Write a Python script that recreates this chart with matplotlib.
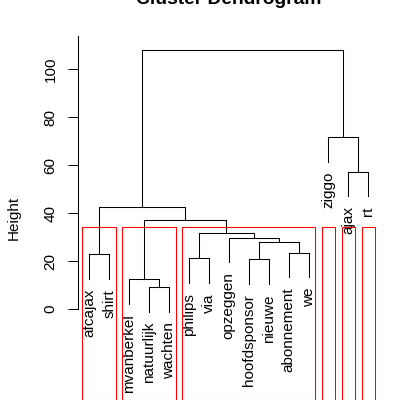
import numpy as np
import matplotlib.pyplot as plt
from matplotlib.patches import Rectangle

plt.rcParams['font.family'] = ['Liberation Sans', 'DejaVu Sans']

# leaves in plotting order
leaf_labels = ['afcajax', 'shirt', 'mvanberkel', 'natuurlijk', 'wachten',
               'philips', 'via', 'opzeggen', 'hoofdsponsor', 'nieuwe',
               'abonnement', 'we', 'ziggo', 'ajax', 'rt']

# hclust-style merge table: negative = leaf number, positive = earlier merge
merge = [(-4, -5), (-3, 1), (-9, -10), (-6, -7), (-1, -2), (-11, -12),
         (3, 6), (-8, 7), (4, 8), (2, 9), (5, 10), (-14, -15), (-13, 12),
         (11, 13)]
merge_height = [9.0, 12.4, 20.7, 21.1, 22.8, 23.5, 28.0, 29.7, 31.5, 37.1,
                42.4, 57.2, 71.5, 107.8]

# rect.hclust(k = 6) groups, sizes in leaf order
cluster_sizes = [2, 3, 7, 1, 1, 1]

hang = 10.1

fig = plt.figure(figsize=(4, 4), dpi=100)
ax = fig.add_axes([78.1 / 400, 0, 301.4 / 400, 364 / 400])
n = len(leaf_labels)
ax.set_xlim(1 - 0.04 * (n - 1), n + 0.04 * (n - 1))
ax.set_ylim(-37.9, 113.75)

lw = 0.75
node_x = {}
for i, (a, b) in enumerate(merge, start=1):
    h = merge_height[i - 1]
    xs = []
    for c in (a, b):
        if c < 0:
            cx = -c
            ax.plot([cx, cx], [h - hang, h], color='black', lw=lw)
            ax.annotate(leaf_labels[cx - 1], xy=(cx, h - hang), xytext=(0, -7.5),
                        textcoords='offset points', rotation=90,
                        ha='center', va='top', fontsize=11)
        else:
            cx = node_x[c]
            ax.plot([cx, cx], [merge_height[c - 1], h], color='black', lw=lw)
        xs.append(cx)
    ax.plot(xs, [h, h], color='black', lw=lw)
    node_x[i] = np.mean(xs)

# red boxes as drawn by rect.hclust
k = len(cluster_sizes)
hs = sorted(merge_height, reverse=True)
box_top = (hs[k - 2] + hs[k - 1]) / 2
m = np.concatenate([[0], np.cumsum(cluster_sizes)])
for j in range(k):
    x0 = m[j] + 0.66
    x1 = m[j + 1] + 0.33
    ax.add_patch(Rectangle((x0, -37.9), x1 - x0, box_top + 37.9, fill=False,
                           edgecolor='red', lw=lw, zorder=5, clip_on=False))

for s in ['top', 'right', 'bottom']:
    ax.spines[s].set_visible(False)
ax.spines['left'].set_linewidth(lw)
ax.spines['left'].set_bounds(0, 113.75)
ax.set_xticks([])
ax.set_yticks([0, 20, 40, 60, 80, 100])
ax.tick_params(axis='y', length=7.2, width=lw, pad=7.5, labelsize=11)
for t in ax.get_yticklabels():
    t.set_rotation(90)
    t.set_va('center')

ax.set_ylabel('Height', fontsize=11)
ax.yaxis.set_label_coords(-0.191, 0.5)

fig.text(228.75 / 400, 1 - 4 / 400, 'Cluster Dendrogram', ha='center',
         va='baseline', fontsize=13.9, fontweight='bold')

fig.savefig('out.png', dpi=100)
